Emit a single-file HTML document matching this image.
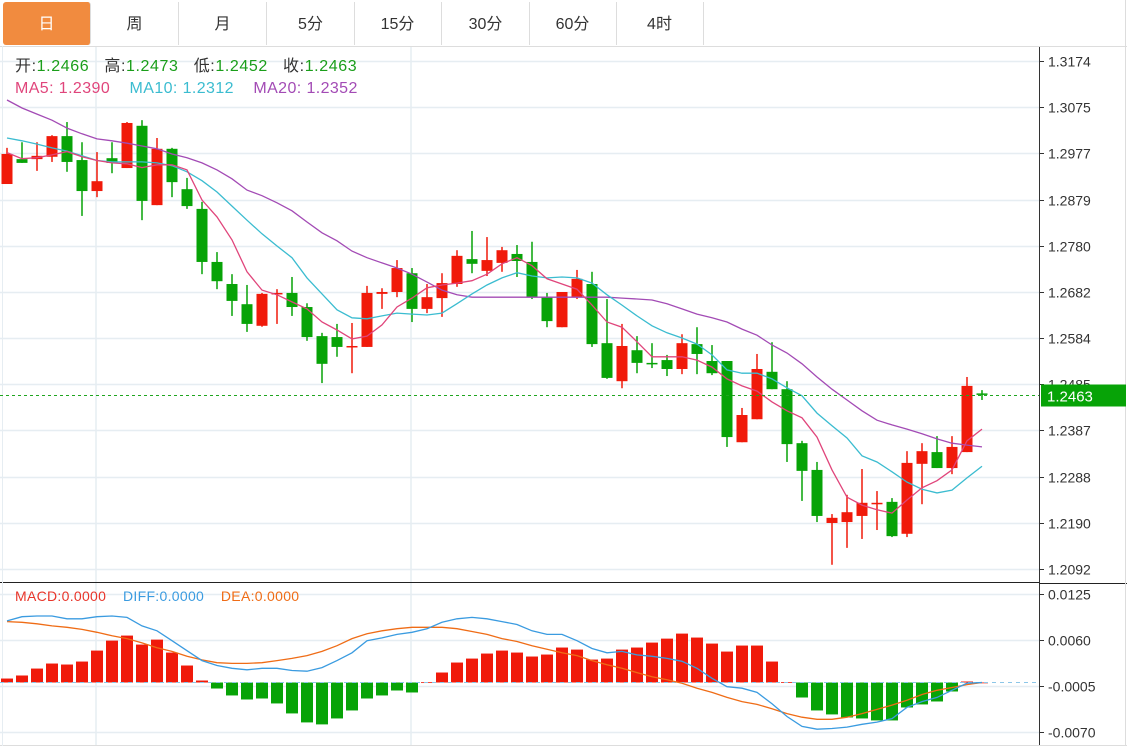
<!DOCTYPE html>
<html><head><meta charset="utf-8">
<style>
body{margin:0;background:#fff;font-family:"Liberation Sans","Noto Sans CJK SC",sans-serif;}
#wrap{position:relative;width:1127px;height:746px;overflow:hidden;background:#fff;}
.tabs{position:absolute;left:0;top:0;width:1127px;height:46px;border-bottom:1px solid #ddd;}
.tab{position:absolute;top:2px;height:43px;width:87px;border-right:1px solid #ddd;text-align:center;line-height:45px;font-size:16px;color:#333;}
.tab.on{background:#f18b3f;color:#fff;border-radius:3px;}
.info{position:absolute;left:15px;font-size:16px;letter-spacing:0.4px;white-space:nowrap;line-height:20px;}
</style></head><body>
<div id="wrap">
<div class="tabs">
<div class="tab on" style="left:3px">日</div>
<div class="tab" style="left:91px">周</div>
<div class="tab" style="left:179px">月</div>
<div class="tab" style="left:267px">5分</div>
<div class="tab" style="left:354px">15分</div>
<div class="tab" style="left:442px">30分</div>
<div class="tab" style="left:529px">60分</div>
<div class="tab" style="left:616px">4时</div>
</div>
<svg id="chart" width="1127" height="746" style="position:absolute;left:0;top:0"></svg>
<div class="info" style="top:57px;letter-spacing:0.6px"><span style="color:#333">开:</span><span style="color:#1a9e1a">1.2466</span>&nbsp;&nbsp; <span style="color:#333">高:</span><span style="color:#1a9e1a">1.2473</span>&nbsp;&nbsp; <span style="color:#333">低:</span><span style="color:#1a9e1a">1.2452</span>&nbsp;&nbsp; <span style="color:#333">收:</span><span style="color:#1a9e1a">1.2463</span></div>
<div class="info" style="top:79px"><span style="color:#e0457b">MA5: 1.2390</span>&nbsp;&nbsp;&nbsp; <span style="color:#3bbcd0">MA10: 1.2312</span>&nbsp;&nbsp;&nbsp; <span style="color:#a34bb5">MA20: 1.2352</span></div>
<div class="info" style="top:586px;font-size:14px;letter-spacing:0.3px"><span style="color:#e8352a">MACD:0.0000</span>&nbsp;&nbsp;&nbsp; <span style="color:#3a9be0">DIFF:0.0000</span>&nbsp;&nbsp;&nbsp; <span style="color:#ef6c16">DEA:0.0000</span></div>
</div>
<script>
const opens=[1.2912,1.2965,1.2965,1.2970,1.3014,1.2963,1.2897,1.2967,1.2946,1.3036,1.2867,1.2987,1.2901,1.2859,1.2746,1.2699,1.2656,1.2610,1.2678,1.2680,1.2650,1.2588,1.2586,1.2565,1.2565,1.2678,1.2682,1.2722,1.2646,1.2669,1.2699,1.2752,1.2727,1.2744,1.2763,1.2746,1.2671,1.2607,1.2671,1.2699,1.2573,1.2492,1.2558,1.2531,1.2537,1.2518,1.2571,1.2535,1.2535,1.2362,1.2411,1.2512,1.2475,1.2360,1.2303,1.2190,1.2192,1.2205,1.2230,1.2235,1.2167,1.2316,1.2341,1.2307,1.2341,1.2466];
const highs=[1.2989,1.3001,1.3001,1.3016,1.3044,1.3001,1.2980,1.3001,1.3044,1.3048,1.3010,1.2989,1.2925,1.2874,1.2767,1.2720,1.2697,1.2680,1.2688,1.2714,1.2658,1.2595,1.2614,1.2616,1.2695,1.2690,1.2750,1.2733,1.2699,1.2722,1.2771,1.2812,1.2799,1.2778,1.2782,1.2789,1.2680,1.2682,1.2729,1.2725,1.2667,1.2614,1.2588,1.2573,1.2548,1.2592,1.2607,1.2569,1.2535,1.2435,1.2550,1.2575,1.2492,1.2365,1.2320,1.2209,1.2250,1.2305,1.2258,1.2243,1.2343,1.2360,1.2375,1.2375,1.2501,1.2473];
const lows=[1.2912,1.2957,1.2940,1.2959,1.2938,1.2844,1.2884,1.2935,1.2946,1.2835,1.2867,1.2884,1.2859,1.2720,1.2688,1.2631,1.2597,1.2608,1.2614,1.2631,1.2578,1.2488,1.2544,1.2509,1.2565,1.2646,1.2671,1.2618,1.2637,1.2629,1.2693,1.2722,1.2716,1.2725,1.2714,1.2667,1.2607,1.2607,1.2667,1.2565,1.2497,1.2477,1.2509,1.2520,1.2503,1.2507,1.2507,1.2505,1.2352,1.2362,1.2411,1.2475,1.2320,1.2237,1.2192,1.2101,1.2137,1.2156,1.2175,1.2160,1.2160,1.2230,1.2307,1.2294,1.2341,1.2452];
const closes=[1.2976,1.2957,1.2972,1.3014,1.2959,1.2897,1.2918,1.2957,1.3042,1.2876,1.2987,1.2916,1.2865,1.2746,1.2705,1.2663,1.2614,1.2678,1.2680,1.2650,1.2586,1.2529,1.2565,1.2567,1.2680,1.2682,1.2733,1.2646,1.2671,1.2701,1.2759,1.2742,1.2750,1.2771,1.2748,1.2671,1.2620,1.2682,1.2710,1.2571,1.2499,1.2567,1.2531,1.2529,1.2518,1.2573,1.2550,1.2509,1.2373,1.2420,1.2518,1.2475,1.2358,1.2301,1.2205,1.2201,1.2213,1.2233,1.2233,1.2162,1.2318,1.2343,1.2307,1.2352,1.2482,1.2463];
const ma5=[1.2979,1.2966,1.2968,1.2974,1.2981,1.2970,1.2962,1.2957,1.2955,1.2947,1.2953,1.2953,1.2942,1.2878,1.2842,1.2793,1.2725,1.2686,1.2676,1.2661,1.2646,1.2618,1.2601,1.2582,1.2588,1.2612,1.2650,1.2669,1.2691,1.2697,1.2701,1.2706,1.2720,1.2742,1.2755,1.2738,1.2710,1.2699,1.2688,1.2654,1.2618,1.2607,1.2576,1.2544,1.2544,1.2544,1.2537,1.2522,1.2497,1.2482,1.2471,1.2448,1.2429,1.2414,1.2373,1.2303,1.2245,1.2228,1.2218,1.2211,1.2239,1.2265,1.2280,1.2303,1.2365,1.2390];
const ma10=[1.3010,1.3004,1.2997,1.2989,1.2982,1.2972,1.2962,1.2959,1.2959,1.2959,1.2957,1.2951,1.2938,1.2919,1.2895,1.2865,1.2835,1.2806,1.2780,1.2755,1.2712,1.2678,1.2644,1.2627,1.2625,1.2631,1.2637,1.2635,1.2633,1.2637,1.2657,1.2678,1.2697,1.2712,1.2723,1.2716,1.2712,1.2714,1.2712,1.2701,1.2676,1.2654,1.2631,1.2610,1.2595,1.2584,1.2571,1.2548,1.2516,1.2509,1.2509,1.2497,1.2478,1.2461,1.2424,1.2397,1.2371,1.2333,1.2320,1.2299,1.2277,1.2262,1.2254,1.2260,1.2286,1.2311];
const ma20=[1.3091,1.3074,1.3061,1.3048,1.3031,1.3019,1.3008,1.3004,1.2999,1.2993,1.2987,1.2976,1.2968,1.2957,1.2942,1.2923,1.2899,1.2887,1.2872,1.2855,1.2831,1.2808,1.2791,1.2769,1.2755,1.2744,1.2733,1.2720,1.2703,1.2686,1.2676,1.2671,1.2671,1.2671,1.2671,1.2671,1.2671,1.2671,1.2671,1.2671,1.2671,1.2669,1.2667,1.2665,1.2657,1.2646,1.2635,1.2627,1.2618,1.2603,1.2590,1.2569,1.2552,1.2529,1.2501,1.2475,1.2452,1.2429,1.2409,1.2399,1.2390,1.2380,1.2369,1.2360,1.2356,1.2352];
const macdHist=[.00056,.00099,.00197,.00268,.00254,.00296,.00451,.00592,.00663,.00536,.00606,.00423,.0024,.00028,-.00085,-.00183,-.0024,-.00226,-.00296,-.00437,-.00564,-.00592,-.00508,-.00395,-.00226,-.00183,-.00113,-.00141,.00004,.00141,.00282,.00338,.00409,.00451,.00423,.00367,.00395,.00494,.00465,.00324,.00338,.00465,.00494,.00564,.0062,.00691,.00635,.0055,.00437,.00522,.00522,.00296,.00007,-.00212,-.00395,-.00451,-.00494,-.00508,-.00536,-.00536,-.00353,-.0031,-.00268,-.00127,.00014,0];
const diff=[.0087,.0093,.0094,.0094,.0090,.0090,.0093,.0094,.0092,.0080,.0073,.0059,.0045,.0031,.0024,.0020,.0018,.0020,.0020,.0017,.0016,.0021,.0031,.0042,.0059,.0063,.0068,.0071,.0076,.0085,.0090,.0092,.0090,.0086,.0082,.0073,.0068,.0068,.0059,.0048,.0042,.0044,.0039,.0037,.0034,.0030,.0020,.0006,-.0006,-.0008,-.0014,-.0030,-.0048,-.0062,-.0066,-.0065,-.0063,-.0059,-.0056,-.0051,-.0035,-.0027,-.0021,-.0011,-.0001,0];
const dea=[.0086,.0085,.0083,.0080,.0078,.0075,.0071,.0066,.0062,.0056,.0049,.0044,.0037,.0032,.0028,.0027,.0027,.0028,.0031,.0034,.0038,.0044,.0052,.0062,.0069,.0073,.0076,.0078,.0078,.0078,.0076,.0072,.0068,.0062,.0058,.0052,.0047,.0042,.0038,.0031,.0025,.0020,.0014,.0008,.0004,-.0001,-.0008,-.0014,-.0021,-.0027,-.0031,-.0037,-.0044,-.0049,-.0052,-.0052,-.0049,-.0044,-.0038,-.0032,-.0025,-.0017,-.0011,-.0007,-.0003,0];
const priceTicks=[1.3174,1.3075,1.2977,1.2879,1.2780,1.2682,1.2584,1.2485,1.2387,1.2288,1.2190,1.2092];
const macdTicks=[0.0125,0.0060,-0.0005,-0.0070];
const lastPrice=1.2463;

const NS='http://www.w3.org/2000/svg';
const svg=document.getElementById('chart');
const xOf=i=>7+15*i;
const yP=p=>61+(1.3174-p)*4695;
const yM=v=>682.5-v*7077;
const RED='#f01a0a',GRN='#07a307';
function el(tag,attrs,parent){const e=document.createElementNS(NS,tag);for(const k in attrs)e.setAttribute(k,attrs[k]);(parent||svg).appendChild(e);return e;}
priceTicks.forEach(t=>{const y=Math.round(yP(t))+0.5;
 const g=el('line',{x1:0,x2:1039,y1:y,y2:y,stroke:'#e6edf2','stroke-width':1.5});
 
 
 el('line',{x1:1039,x2:1044,y1:y,y2:y,stroke:'#333'});
 const tx=el('text',{x:1048,y:y+5,'font-size':14,fill:'#333','font-family':'Liberation Sans, sans-serif'});
 tx.textContent=t.toFixed(4);
 
 
});
macdTicks.forEach(t=>{const y=Math.round(yM(t))+0.5;
 const g=el('line',{x1:0,x2:1039,y1:y,y2:y,stroke:'#e6edf2','stroke-width':1.5});
 
 
 el('line',{x1:1039,x2:1044,y1:y,y2:y,stroke:'#333'});
 const tx=el('text',{x:1048,y:y+5,'font-size':14,fill:'#333','font-family':'Liberation Sans, sans-serif'});
 tx.textContent=t.toFixed(4);
 
 
});
[96,411].forEach(x=>{el('line',{x1:x,x2:x,y1:47,y2:746,stroke:'#e6edf2','stroke-width':1.5});});
el('line',{x1:1039.5,x2:1039.5,y1:47,y2:746,stroke:'#333'});
el('line',{x1:0,x2:1039,y1:582.5,y2:582.5,stroke:'#222'});
el('line',{x1:1039,x2:1127,y1:583.5,y2:583.5,stroke:'#222'});
el('line',{x1:1125.5,x2:1125.5,y1:0,y2:746,stroke:'#ddd'});
el('line',{x1:0,x2:1127,y1:745.5,y2:745.5,stroke:'#ddd'});
el('line',{x1:2.5,x2:2.5,y1:46,y2:746,stroke:'#e6edf2'});
opens.forEach((o,i)=>{const c=closes[i];const up=c>=o;const col=up?RED:GRN;const x=xOf(i);
 const g=el('g',{});
 
 
 el('line',{x1:x,x2:x,y1:yP(highs[i]),y2:yP(lows[i]),stroke:col,'stroke-width':1.5},g);
 const t=yP(Math.max(o,c)),b=yP(Math.min(o,c));
 el('rect',{x:x-5.5,y:t,width:11,height:Math.max(b-t,1.5),fill:col},g);
});
function line(arr,yf,col,name){const d=arr.map((v,i)=>(i?'L':'M')+xOf(i)+' '+yf(v).toFixed(1)).join(' ');
 const p=el('path',{d:d,fill:'none',stroke:col,'stroke-width':1.3});
 
 }
line(ma20,yP,'#a34bb5','ma20-line');
line(ma10,yP,'#3bbcd0','ma10-line');
line(ma5,yP,'#e0457b','ma5-line');
const ly=Math.round(yP(lastPrice))+0.5;
el('line',{x1:0,x2:1039,y1:ly,y2:ly,stroke:'#1fa51f','stroke-dasharray':'3,3'});
const tag=el('rect',{x:1041,y:ly-11,width:85,height:22,fill:'#07a307'});


const lt=el('text',{x:1047,y:ly+6,'font-size':15,fill:'#fff','font-family':'Liberation Sans, sans-serif'});
lt.textContent=lastPrice.toFixed(4);
macdHist.forEach((v,i)=>{const x=xOf(i);const y0=yM(0),y1=yM(v);
 const r=el('rect',{x:x-6,y:Math.min(y0,y1),width:12,height:Math.max(Math.abs(y1-y0),0.8),fill:v>=0?RED:GRN});
 
 
});
el('line',{x1:0,x2:1039,y1:yM(0),y2:yM(0),stroke:'#8cc6e8','stroke-dasharray':'4,4'});
line(dea,yM,'#ef6c16','dea-line');
line(diff,yM,'#3a9be0','diff-line');
</script>
</body></html>
